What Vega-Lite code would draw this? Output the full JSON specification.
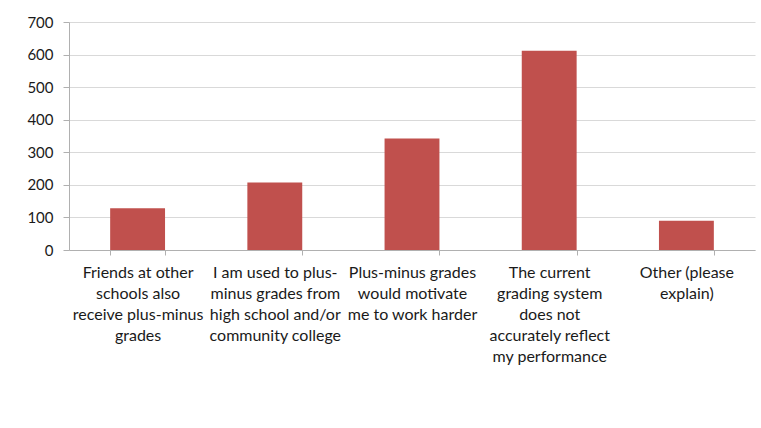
{
  "$schema": "https://vega.github.io/schema/vega-lite/v6.json",
  "width": 686,
  "height": 228,
  "autosize": {"type": "none"},
  "padding": {"left": 69, "top": 22, "right": 6, "bottom": 178},
  "background": "white",
  "data": {
    "values": [
      {"reason": "Friends at other|schools also|receive plus-minus|grades", "count": 128},
      {"reason": "I am used to plus-|minus grades from|high school and/or|community college", "count": 207},
      {"reason": "Plus-minus grades|would motivate|me to work harder", "count": 342},
      {"reason": "The current|grading system|does not|accurately reflect|my performance", "count": 612},
      {"reason": "Other (please|explain)", "count": 90}
    ]
  },
  "mark": {"type": "bar", "color": "#C0504D"},
  "encoding": {
    "x": {
      "field": "reason",
      "type": "nominal",
      "sort": null,
      "scale": {"paddingInner": 0.6, "paddingOuter": 0.3},
      "axis": {
        "title": null,
        "labelAngle": 0,
        "labelExpr": "split(datum.label, '|')",
        "labelFont": "Lato",
        "labelFontSize": 16,
        "labelColor": "#1a1a1a",
        "labelLineHeight": 21,
        "labelPadding": 9,
        "labelLimit": 200,
        "domainColor": "#b0b0b0",
        "tickColor": "#b0b0b0",
        "tickBand": "extent",
        "tickSize": 5,
        "grid": false
      }
    },
    "y": {
      "field": "count",
      "type": "quantitative",
      "scale": {"domain": [0, 700]},
      "axis": {
        "title": null,
        "values": [0, 100, 200, 300, 400, 500, 600, 700],
        "labelFont": "Lato",
        "labelFontSize": 15,
        "labelColor": "#1a1a1a",
        "labelPadding": 10,
        "domainColor": "#b0b0b0",
        "tickColor": "#b0b0b0",
        "tickSize": 6,
        "gridColor": "#d9d9d9"
      }
    }
  },
  "config": {"view": {"stroke": null}}
}
